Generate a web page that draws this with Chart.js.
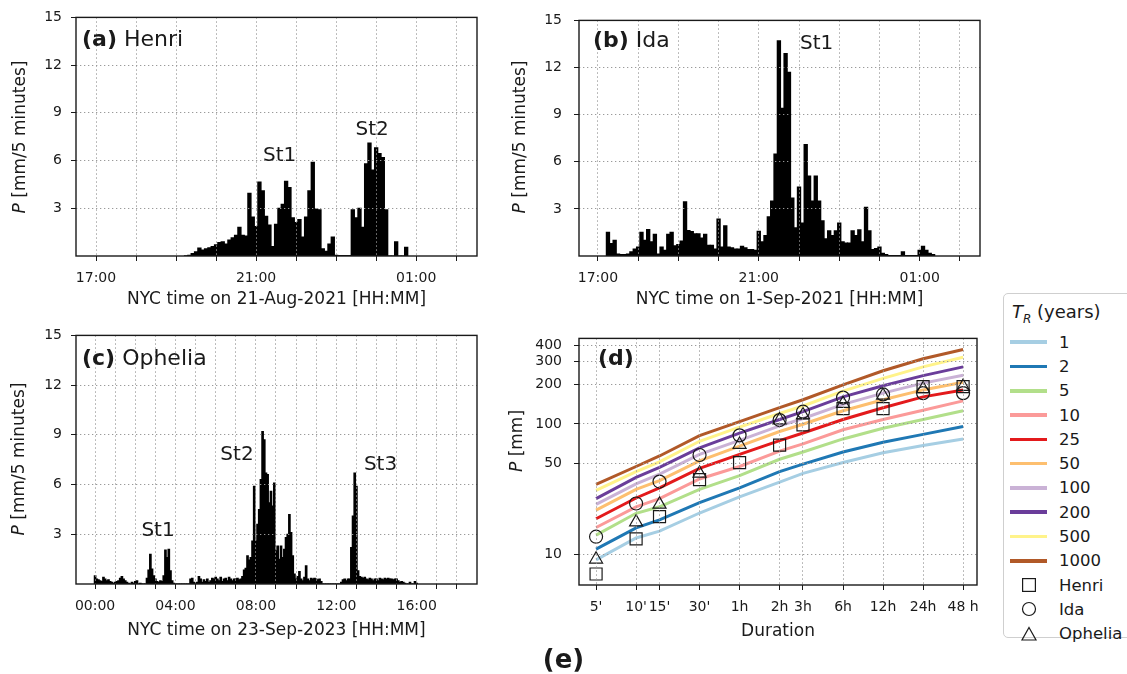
<!DOCTYPE html>
<html>
<head>
<meta charset="utf-8">
<script src="https://cdn.jsdelivr.net/npm/chart.js@4.4.1/dist/chart.umd.min.js"></script>
<style>
  body { margin: 0; background: #fff; }
  #fig { position: relative; width: 1127px; height: 674px; overflow: hidden;
         font-family: "DejaVu Sans", sans-serif; color: #1a1a1a; background: #fff; }
  #fig canvas { position: absolute; }
  #legend { position: absolute; left: 1003px; top: 293px; width: 140px; height: 345px;
            border: 1px solid #cfcfcf; border-radius: 5px; box-sizing: border-box; background: #fff; }
  #legend-title { position: absolute; left: 8px; top: 6px; font-size: 18px; line-height: 24px; white-space: nowrap; }
  #legend-title sub { font-size: 12px; font-style: italic; vertical-align: -5px; line-height: 0; }
  #legend-rows { position: absolute; left: 0; top: 36px; }
  .row { height: 24.3px; display: flex; align-items: center; font-size: 16.5px; white-space: nowrap; }
  .sw { width: 37px; height: 3.6px; margin-left: 6px; }
  .mk { width: 37px; height: 20px; margin-left: 6px; display: flex; justify-content: center; align-items: center; }
  .lab { margin-left: 12px; }
  #tag-e { position: absolute; left: 0; width: 1127px; top: 644px; text-align: center;
           font-size: 26px; font-weight: bold; line-height: 30px; }
</style>
</head>
<body>
<div id="fig">
  <canvas id="pa" width="490" height="314" style="left:0;top:0"></canvas>
  <canvas id="pb" width="490" height="314" style="left:500px;top:0"></canvas>
  <canvas id="pc" width="490" height="327" style="left:0;top:318px"></canvas>
  <canvas id="pd" width="490" height="327" style="left:500px;top:318px"></canvas>
  <div id="legend">
    <div id="legend-title"><i>T</i><sub>R</sub> (years)</div>
    <div id="legend-rows"></div>
  </div>
  <div id="tag-e">(e)</div>
</div>
<script>
// 5-minute rainfall [mm], one value per bin
const STEP_H = 5 / 60;

const HENRI_START_H = 19.25; // 19:15, 21-Aug-2021
const HENRI_P = [
  0.02, 0.05, 0.15, 0.27, 0.5, 0.37, 0.45, 0.52, 0.6,
  0.7, 0.85, 0.9, 0.75, 1.0, 1.15, 1.3, 1.8, 1.3, 1.25, 3.95, 2.45,
  1.85, 4.65, 4.1, 2.5, 1.95, 0.6, 2.0, 3.0, 3.25, 4.7, 4.3, 2.4,
  2.1, 2.3, 1.2, 2.45, 4.1, 5.9, 2.95, 2.9, 0.45, 0.3, 0.75, 1.2,
  0.05, 0.03, 0.03, 0.03, 0.03, 2.9, 2.4, 3.0, 1.8, 5.8, 7.1, 5.4,
  6.8, 6.45, 6.2, 2.9, 0, 0, 0.9, 0, 0, 0.55,
];

const IDA_START_H = 17.25; // 17:15, 1-Sep-2021
const IDA_P = [
  1.52, 0.8, 1.0, 0.12, 0.1, 0.1, 0.12, 0.27, 0.45,
  0.58, 1.52, 1.0, 1.69, 0.9, 1.38, 0.12, 0.58, 0.37, 1.38, 1.52, 0.65,
  0.73, 0.96, 3.46, 1.63, 1.56, 1.42, 1.42, 1.15, 1.38, 0.69, 0.69, 0.44,
  2.35, 0.58, 1.92, 0.58, 0.52, 0.44, 0.44, 0.62, 0.52, 0.42, 0.42, 0.37,
  1.58, 0.9, 1.3, 2.5, 3.5, 6.5, 13.7, 9.4, 12.9, 11.7, 3.7, 1.8,
  4.4, 2.1, 7.1, 5.1, 3.5, 5.1, 3.5, 2.25, 1.1, 1.6, 1.3, 1.6,
  2.1, 0.9, 0.83, 0.83, 1.6, 1.3, 1.67, 0.9, 3.1, 1.6, 0.42, 0.48,
  0.58, 0.17, 0.1, 0.03, 0.03, 0.03, 0.03, 0.27, 0.03, 0.03, 0.03, 0.03,
  0.37, 0.62, 0.37, 0.17, 0.1,
];

const OPHELIA_START_H = 0; // 00:00, 23-Sep-2023
const OPHELIA_P = [
  0.5, 0.3, 0.25, 0.2, 0.15, 0.4, 0.3, 0.2, 0.25, 0.15, 0.1, 0.05,
  0.1, 0.15, 0.2, 0.35, 0.45, 0.3, 0.2, 0.1, 0.05, 0, 0.1, 0.05,
  0.15, 0.2, 0, 0.05, 0, 0, 0, 0.35, 0.85, 1.8, 0.9, 0.5,
  0.3, 0.15, 0.1, 0.2, 0.15, 0.5, 2.05, 1.6, 2.1, 0.8, 0.2, 0.05,
  0, 0, 0, 0, 0, 0, 0, 0, 0, 0.3, 0.35, 0.1,
  0.05, 0.1, 0.45, 0.3, 0.1, 0.25, 0.15, 0.3, 0.1, 0.2, 0.35, 0.3,
  0.4, 0.3, 0.2, 0.4, 0.15, 0.3, 0.35, 0.2, 0.4, 0.3, 0.2, 0.3,
  0.3, 0.35, 0.25, 0.3, 0.45, 0.85, 0.95, 1.7, 1.45, 1.6, 2.6, 5.9,
  2.6, 3.6, 4.5, 6.3, 9.2, 8.7, 6.7, 6.6, 4.9, 5.6, 4.7, 6.1,
  2.0, 2.3, 1.5, 2.3, 1.6, 2.1, 2.8, 3.0, 4.2, 3.1, 1.7, 0.6,
  0.3, 0.45, 0.75, 0.3, 0.2, 0.4, 1.1, 0.3, 0.2, 0.35, 0.3, 0.35,
  0.3, 0.25, 0.3, 0.15, 0, 0, 0, 0, 0, 0, 0, 0,
  0, 0, 0, 0.1, 0.25, 0.3, 0.2, 0.3, 0.3, 2.2, 4.1, 6.7,
  5.9, 0.8, 0.45, 0.4, 0.35, 0.4, 0.3, 0.25, 0.35, 0.3, 0.2, 0.3,
  0.3, 0.2, 0.35, 0.3, 0.25, 0.35, 0.3, 0.35, 0.3, 0.3, 0.25, 0.3,
  0.3, 0.2, 0.1, 0.15, 0.1, 0.05, 0, 0, 0.1, 0, 0, 0.15,
  0.05,
];

const AB_HOUR_TICKS = [17, 18, 19, 20, 21, 22, 23, 24, 25, 26];
const AB_HOUR_LABELS = ["17:00", "", "", "", "21:00", "", "", "", "01:00", ""];
const C_HOUR_TICKS = [0, 1, 2, 3, 4, 5, 6, 7, 8, 9, 10, 11, 12, 13, 14, 15, 16, 17, 18];
const C_HOUR_LABELS = ["00:00", "", "", "", "04:00", "", "", "", "08:00", "", "", "", "12:00", "", "", "", "16:00", "", ""];
const P5_TICKS = [3, 6, 9, 12, 15];

// depth-duration-frequency, panel (d)
const DURATION_MIN = [5, 10, 15, 30, 60, 120, 180, 360, 720, 1440, 2880];
const DURATION_LABELS = ["5'", "10'", "15'", "30'", "1h", "2h", "3h", "6h", "12h", "24h", "48 h"];
const DEPTH_TICKS = [10, 50, 100, 200, 300, 400];

const RETURN_PERIODS = ["1", "2", "5", "10", "25", "50", "100", "200", "500", "1000"];
const IDF_T1 = [9.1, 13.4, 15.1, 20.8, 27.6, 35.8, 41.8, 50.6, 60.1, 68.3, 76.7];
const IDF_T2 = [11.0, 16.0, 18.4, 25.0, 32.4, 43.1, 49.2, 60.9, 72.4, 83.1, 95.5];
const IDF_T5 = [14.1, 20.7, 23.2, 31.5, 40.2, 53.6, 60.9, 76.7, 92.7, 108, 126];
const IDF_T10 = [16.1, 23.2, 26.8, 37.9, 47.2, 61.9, 70.3, 90.1, 108, 127, 150];
const IDF_T25 = [18.8, 27.1, 32.4, 45.6, 58.5, 74.5, 85.1, 108, 133, 161, 182];
const IDF_T50 = [21.9, 31.5, 36.8, 52.1, 67.5, 87.5, 99.4, 126, 153, 182, 208];
const IDF_T100 = [24.2, 34.8, 41.3, 58.5, 74.9, 96.6, 110, 141, 172, 205, 236];
const IDF_T200 = [26.8, 39.0, 46.4, 65.6, 85.1, 108, 124, 161, 196, 234, 273];
const IDF_T500 = [31.0, 43.1, 51.2, 73.6, 94.4, 120, 137, 178, 223, 273, 324];
const IDF_T1000 = [34.4, 47.2, 56.8, 81.2, 104, 133, 153, 199, 255, 315, 371];

const STORM_NAMES = ["Henri", "Ida", "Ophelia"];
const HENRI_MAX = [7.1, 13.2, 19.5, 37.5, 50.6, 68.7, 98.3, 131, 131, 193, 193];
const IDA_MAX = [13.7, 24.6, 36.2, 57.8, 81.7, 107, 124, 159, 168, 172, 172];
const OPHELIA_MAX = [9.2, 17.7, 24.2, 41.8, 69.5, 107, 117, 143, 165, 185, 193];

// styling
const FONT = '"DejaVu Sans", sans-serif';
const INK = "#1a1a1a";
const TR_COLORS = ["#a6cee3", "#1f78b4", "#b2df8a", "#fb9a99", "#e31a1c",
                   "#fdbf6f", "#cab2d6", "#6a3d9a", "#fff38a", "#b15928"];
const STORM_SHAPES = ["rect", "circle", "triangle"];
const STORM_RADII = [8.5, 6.5, 7.5];

const GRID = { color: "#9a9a9a", lineWidth: 1, z: 1, tickLength: 5, tickColor: INK,
               tickWidth: 1, tickBorderDash: [], offset: false };
const BORDER = { display: false, dash: [1.3, 2.7] };

// text that is not tied to a scale: y titles, panel tags, storm notes
const DECOR = {
  pa: { ylab: [21, 137, "P", " [mm/5 minutes]"], tag: [82, 46, "(a)", " Henri"],
        notes: [["St1", 21.59, 6.3], ["St2", 23.9, 7.95]] },
  pb: { ylab: [21, 137, "P", " [mm/5 minutes]"], tag: [93, 47, "(b)", " Ida"],
        notes: [["St1", 22.44, 13.5]] },
  pc: { ylab: [20, 141, "P", " [mm/5 minutes]"], tag: [82, 47, "(c)", " Ophelia"],
        notes: [["St1", 3.13, 3.18], ["St2", 7.06, 7.77], ["St3", 14.2, 7.17]] },
  pd: { ylab: [18, 123, "P", " [mm]"], tag: [98, 47, "(d)", ""], notes: [] },
};

const decorPlugin = {
  id: "decor",
  afterDraw(chart) {
    const d = DECOR[chart.canvas.id];
    const { ctx, chartArea: a, scales } = chart;
    ctx.save();
    ctx.strokeStyle = INK;
    ctx.lineWidth = 1.4;
    ctx.strokeRect(a.left, a.top, a.right - a.left, a.bottom - a.top);
    ctx.fillStyle = INK;
    ctx.textBaseline = "middle";
    ctx.textAlign = "left";

    const [yx, yy, main, rest] = d.ylab;
    ctx.translate(yx, yy);
    ctx.rotate(-Math.PI / 2);
    ctx.font = `italic 17px ${FONT}`;
    const w1 = ctx.measureText(main).width;
    ctx.font = `17px ${FONT}`;
    const w2 = ctx.measureText(rest).width;
    ctx.font = `italic 17px ${FONT}`;
    ctx.fillText(main, -(w1 + w2) / 2, 0);
    ctx.font = `17px ${FONT}`;
    ctx.fillText(rest, -(w1 + w2) / 2 + w1, 0);
    ctx.setTransform(1, 0, 0, 1, 0, 0);

    const [tx, ty, bold, name] = d.tag;
    ctx.textBaseline = "alphabetic";
    ctx.font = `bold 22px ${FONT}`;
    ctx.fillText(bold, tx, ty);
    const bw = ctx.measureText(bold).width;
    ctx.font = `22px ${FONT}`;
    ctx.fillText(name, tx + bw, ty);

    ctx.textAlign = "center";
    ctx.textBaseline = "middle";
    ctx.font = `20px ${FONT}`;
    for (const [txt, x, y] of d.notes) {
      ctx.fillText(txt, scales.x.getPixelForValue(x), scales.y.getPixelForValue(y));
    }
    ctx.restore();
  },
};

function tickFont(size) {
  return { family: FONT, size };
}

function rainPanel(id, start, values, range, hourTicks, hourLabels, title, box) {
  const data = values.map((v, i) => ({ x: start + i * STEP_H, y: v }));
  return new Chart(document.getElementById(id), {
    type: "bar",
    data: {
      datasets: [{ data, backgroundColor: "#000", borderWidth: 0,
                   barPercentage: 1, categoryPercentage: 1, inflateAmount: 0.5 }],
    },
    options: {
      responsive: false,
      animation: false,
      layout: { padding: { top: 16, right: box.right, left: 0, bottom: 0 } },
      plugins: { legend: { display: false }, tooltip: { enabled: false } },
      scales: {
        x: {
          type: "linear", min: range[0], max: range[1], offset: false,
          grid: GRID, border: BORDER,
          afterBuildTicks: (s) => { s.ticks = hourTicks.map((v) => ({ value: v })); },
          afterFit: (s) => { s.height = box.xh; },
          ticks: { autoSkip: false, maxRotation: 0, padding: 9, color: INK, font: tickFont(14),
                   callback: (v) => hourLabels[hourTicks.indexOf(v)] ?? "" },
          title: { display: true, text: title, color: INK, font: tickFont(17),
                   padding: { top: 0, bottom: 4 } },
        },
        y: {
          min: 0, max: 15, grid: GRID, border: BORDER,
          afterBuildTicks: (s) => { s.ticks = P5_TICKS.map((v) => ({ value: v })); },
          afterFit: (s) => { s.width = box.yw; },
          ticks: { padding: box.ypad, color: INK, font: tickFont(14), callback: (v) => String(v) },
        },
      },
    },
    plugins: [decorPlugin],
  });
}

rainPanel("pa", HENRI_START_H, HENRI_P, [16.5, 26.52], AB_HOUR_TICKS, AB_HOUR_LABELS,
  "NYC time on 21-Aug-2021 [HH:MM]", { right: 13, xh: 58, yw: 76, ypad: 9 });
rainPanel("pb", IDA_START_H, IDA_P, [16.53, 26.5], AB_HOUR_TICKS, AB_HOUR_LABELS,
  "NYC time on 1-Sep-2021 [HH:MM]", { right: 10, xh: 58, yw: 79, ypad: 12 });
rainPanel("pc", OPHELIA_START_H, OPHELIA_P, [-0.95, 19.0], C_HOUR_TICKS, C_HOUR_LABELS,
  "NYC time on 23-Sep-2023 [HH:MM]", { right: 13, xh: 61, yw: 76, ypad: 9 });

// panel (d)
const IDF_SERIES = [IDF_T1, IDF_T2, IDF_T5, IDF_T10, IDF_T25, IDF_T50, IDF_T100, IDF_T200, IDF_T500, IDF_T1000];
const STORM_SERIES = [HENRI_MAX, IDA_MAX, OPHELIA_MAX];

const idfSets = IDF_SERIES.map((vals, k) => ({
  label: RETURN_PERIODS[k],
  data: vals.map((v, i) => ({ x: DURATION_MIN[i], y: v })),
  borderColor: TR_COLORS[k], borderWidth: 3, pointRadius: 0, tension: 0, order: 1,
}));
const stormSets = STORM_SERIES.map((vals, k) => ({
  label: STORM_NAMES[k],
  data: vals.map((v, i) => ({ x: DURATION_MIN[i], y: v })),
  showLine: false, pointStyle: STORM_SHAPES[k], pointRadius: STORM_RADII[k],
  pointBorderWidth: 1.2, pointBorderColor: INK, pointBackgroundColor: "rgba(0,0,0,0)", order: 0,
}));

new Chart(document.getElementById("pd"), {
  type: "line",
  data: { datasets: [...stormSets, ...idfSets] },
  options: {
    responsive: false,
    animation: false,
    layout: { padding: { top: 16, right: 13, left: 0, bottom: 0 } },
    plugins: { legend: { display: false }, tooltip: { enabled: false } },
    scales: {
      x: {
        type: "logarithmic", min: 3.72, max: 3664, grid: GRID, border: BORDER,
        afterBuildTicks: (s) => { s.ticks = DURATION_MIN.map((v) => ({ value: v })); },
        afterFit: (s) => { s.height = 60; },
        ticks: { autoSkip: false, maxRotation: 0, padding: 9, color: INK, font: tickFont(14),
                 callback: (v) => DURATION_LABELS[DURATION_MIN.indexOf(v)] ?? "" },
        title: { display: true, text: "Duration", color: INK, font: tickFont(17),
                 padding: { top: 0, bottom: 3 } },
      },
      y: {
        type: "logarithmic", min: 5.85, max: 451, grid: GRID, border: BORDER,
        afterBuildTicks: (s) => { s.ticks = DEPTH_TICKS.map((v) => ({ value: v })); },
        afterFit: (s) => { s.width = 79; },
        ticks: { padding: 12, color: INK, font: tickFont(14), callback: (v) => String(v) },
      },
    },
  },
  plugins: [decorPlugin],
});

// legend for panel (d)
const rows = document.getElementById("legend-rows");
RETURN_PERIODS.forEach((tr, k) => {
  rows.insertAdjacentHTML("beforeend",
    `<div class="row"><div class="sw" style="background:${TR_COLORS[k]}"></div><span class="lab">${tr}</span></div>`);
});
const MARKER_SVG = [
  `<svg width="16" height="16"><rect x="1.6" y="1.6" width="12.8" height="12.8" fill="none" stroke="${INK}" stroke-width="1.2"/></svg>`,
  `<svg width="16" height="16"><circle cx="8" cy="8" r="6.5" fill="none" stroke="${INK}" stroke-width="1.2"/></svg>`,
  `<svg width="18" height="16"><polygon points="9,1.5 16,14 2,14" fill="none" stroke="${INK}" stroke-width="1.2"/></svg>`,
];
STORM_NAMES.forEach((name, k) => {
  rows.insertAdjacentHTML("beforeend",
    `<div class="row"><div class="mk">${MARKER_SVG[k]}</div><span class="lab">${name}</span></div>`);
});
</script>
</body>
</html>
